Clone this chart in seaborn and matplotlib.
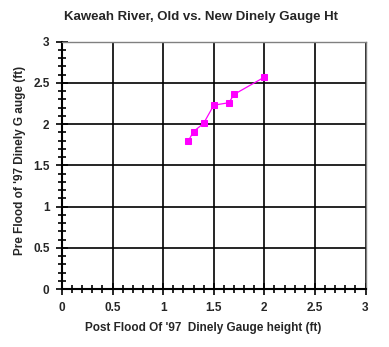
import matplotlib
matplotlib.use("Agg")
import matplotlib.pyplot as plt
from matplotlib.ticker import MultipleLocator
import seaborn as sns
import pandas as pd

# Dinely gauge readings (ft)
post_flood = [1.25, 1.30, 1.40, 1.50, 1.65, 1.70, 2.00]
pre_flood = [1.80, 1.91, 2.01, 2.23, 2.26, 2.36, 2.57]
tick_values = [0, 0.5, 1, 1.5, 2, 2.5, 3]
tick_labels = ["0", "0.5", "1", "1.5", "2", "2.5", "3"]

df = pd.DataFrame({"post": post_flood, "pre": pre_flood})

sns.set_style("white")
plt.rcParams["font.family"] = ["Liberation Sans", "DejaVu Sans"]
plt.rcParams["font.weight"] = "bold"

fig = plt.figure(figsize=(3.89, 3.47), dpi=100)
ax = fig.add_axes([0.1594, 0.1671, 0.7802, 0.7127])

sns.lineplot(data=df, x="post", y="pre", ax=ax, color="#FF00FF",
             linewidth=0.9, marker="s", markersize=5,
             markeredgecolor="#FF00FF", markerfacecolor="#FF00FF",
             sort=False, zorder=5)

ax.set_xlim(0, 3)
ax.set_ylim(0, 3)
ax.set_xticks(tick_values)
ax.set_xticklabels(tick_labels)
ax.set_yticks(tick_values)
ax.set_yticklabels(tick_labels)
ax.xaxis.set_minor_locator(MultipleLocator(0.1))
ax.yaxis.set_minor_locator(MultipleLocator(0.1))

ax.grid(True, which="major", color="black", linewidth=1.2)
ax.set_axisbelow(True)

for side in ("top", "right"):
    ax.spines[side].set_color("#808080")
    ax.spines[side].set_linewidth(1.0)
for side in ("left", "bottom"):
    ax.spines[side].set_color("black")
    ax.spines[side].set_linewidth(1.5)

ax.tick_params(which="both", bottom=True, left=True, top=False, right=False)
ax.tick_params(which="major", direction="inout", length=8, width=1.2,
               color="black", labelsize=8.5, pad=5)
ax.tick_params(which="minor", direction="inout", length=6, width=1.2,
               color="black")
for lbl in ax.get_xticklabels() + ax.get_yticklabels():
    lbl.set_fontweight("bold")

ax.set_xlabel("Post Flood Of '97  Dinely Gauge height (ft)",
              fontsize=8.5, fontweight="bold")
ax.xaxis.set_label_coords(0.465, -0.135)
ax.set_ylabel("Pre Flood of '97 Dinely G auge (ft)",
              fontsize=8.5, fontweight="bold")
ax.yaxis.set_label_coords(-0.118, 0.52)
fig.text(0.517, 0.951, "Kaweah River, Old vs. New Dinely Gauge Ht",
         ha="center", va="center", fontsize=9.5, fontweight="bold")

fig.savefig("out.png", dpi=100)
